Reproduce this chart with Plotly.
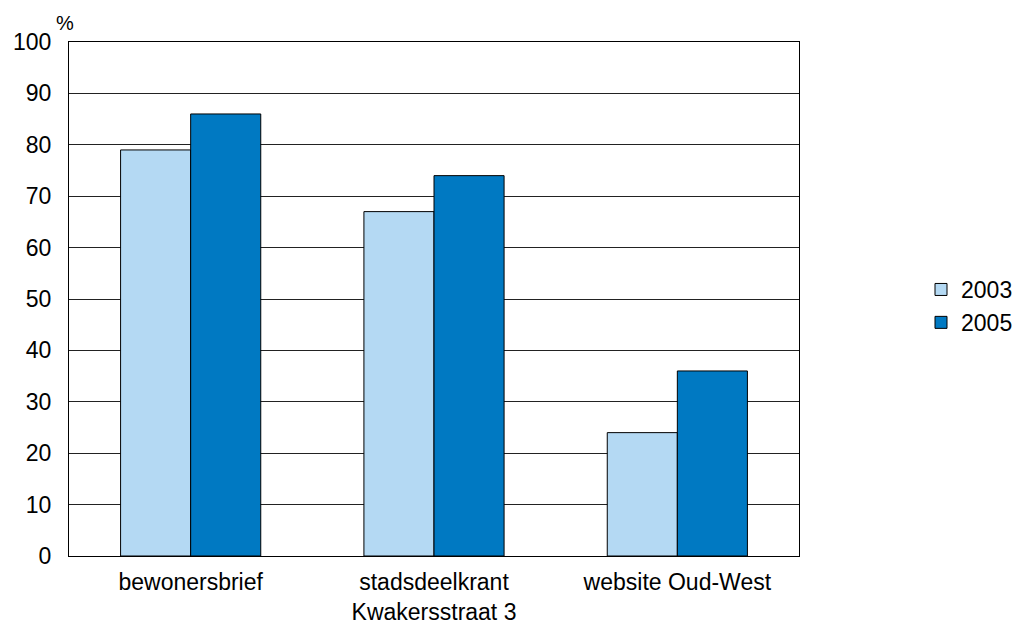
import plotly.graph_objects as go

categories = ["bewonersbrief", "stadsdeelkrant<br>Kwakersstraat 3", "website Oud-West"]
series_names = ["2003", "2005"]
values_2003 = [79, 67, 24]
values_2005 = [86, 74, 36]
y_ticks = [0, 10, 20, 30, 40, 50, 60, 70, 80, 90, 100]

colors = ["#B4D9F3", "#0079C2"]

fig = go.Figure()
for name, vals, col in zip(series_names, [values_2003, values_2005], colors):
    fig.add_trace(go.Bar(
        x=categories, y=vals, name=name,
        marker=dict(color=col, line=dict(color="#000000", width=1)),
    ))

font_family = "Liberation Sans, Arial, sans-serif"
fig.update_layout(
    width=1015, height=623,
    margin=dict(l=69, r=216, t=42, b=67),
    paper_bgcolor="white", plot_bgcolor="white",
    barmode="group", bargap=0.424, bargroupgap=0,
    font=dict(family=font_family, size=23, color="#000000"),
    showlegend=True,
    legend=dict(xref="container", yref="container", x=0.9074, y=0.5088,
                xanchor="left", yanchor="middle",
                font=dict(size=23), traceorder="normal",
                itemwidth=30, tracegroupgap=0),
    xaxis=dict(showgrid=False, showline=True, linecolor="#000000", linewidth=1,
               mirror=True, ticks="outside", ticklen=5, tickcolor="rgba(0,0,0,0)",
               tickfont=dict(size=23), automargin=False),
    yaxis=dict(range=[0, 100], tickvals=y_ticks, showgrid=True,
               gridcolor="#222222", gridwidth=1, showline=True,
               linecolor="#000000", linewidth=1, mirror=True,
               ticks="outside", ticklen=12, tickcolor="rgba(0,0,0,0)",
               tickfont=dict(size=23), zeroline=False, automargin=False),
    annotations=[dict(text="%", xref="paper", yref="paper", x=0, y=1,
                      xanchor="center", yanchor="bottom", showarrow=False,
                      xshift=-4, yshift=6, font=dict(size=20))],
)

fig.write_html(
    "out.html",
    config={"displayModeBar": False},
    post_script="document.body.style.margin='0';"
                "document.documentElement.style.overflow='hidden';",
)
